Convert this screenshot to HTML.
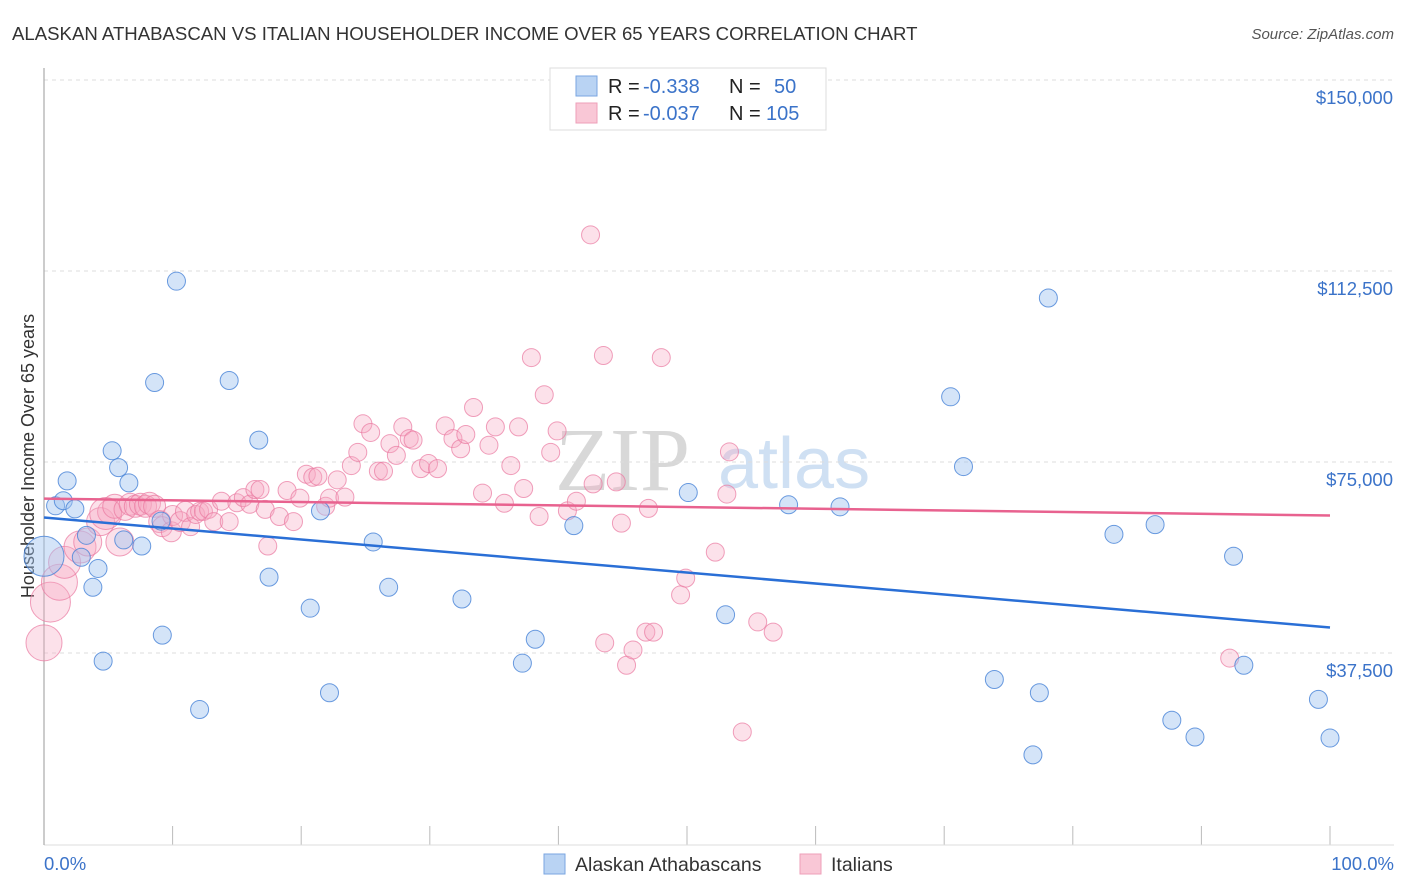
<!DOCTYPE html>
<html><head><meta charset="utf-8"><style>
body{margin:0;background:#fff;font-family:"Liberation Sans",sans-serif;}
svg{display:block}
</style></head><body>
<svg id="chart" width="1406" height="892">
<text x="12" y="40" font-size="18.6" fill="#333">ALASKAN ATHABASCAN VS ITALIAN HOUSEHOLDER INCOME OVER 65 YEARS CORRELATION CHART</text>
<text x="1394" y="39" font-size="15" fill="#555" font-style="italic" text-anchor="end">Source: ZipAtlas.com</text>
<text x="555" y="490" font-size="90" fill="#d8d8d8" font-family="Liberation Serif,serif">ZIP</text>
<text x="718" y="488" font-size="72" fill="#cfe0f3">atlas</text>
<g id="grid"></g>
<line x1="44" y1="68" x2="44" y2="845" stroke="#aaa" stroke-width="1.2"/>
<text transform="translate(34,456) rotate(-90)" font-size="18" fill="#333" text-anchor="middle">Householder Income Over 65 years</text>
<g id="pink"></g><g id="blue"></g><g id="trends"></g>
<text x="44" y="870" font-size="18.5" fill="#3b73c9">0.0%</text>
<text x="1394" y="870" font-size="18.5" fill="#3b73c9" text-anchor="end">100.0%</text>
<g>
<rect x="550" y="68" width="276" height="62" fill="#fff" stroke="#ddd"/>
<rect x="576" y="76" width="21" height="20" fill="#b9d3f3" stroke="#7aa6e0"/>
<rect x="576" y="103" width="21" height="20" fill="#f9c7d6" stroke="#ee9fb8"/>
<text x="608" y="93" font-size="20" fill="#222">R = <tspan x="643" fill="#3b73c9">-0.338</tspan><tspan x="729">N = </tspan><tspan x="774" fill="#3b73c9">50</tspan></text>
<text x="608" y="120" font-size="20" fill="#222">R = <tspan x="643" fill="#3b73c9">-0.037</tspan><tspan x="729">N = </tspan><tspan x="766" fill="#3b73c9">105</tspan></text>
</g>
<g>
<rect x="544" y="854" width="21" height="20" fill="#b9d3f3" stroke="#7aa6e0"/>
<text x="575" y="871" font-size="19.5" fill="#333">Alaskan Athabascans</text>
<rect x="800" y="854" width="21" height="20" fill="#f9c7d6" stroke="#ee9fb8"/>
<text x="831" y="871" font-size="19.5" fill="#333">Italians</text>
</g>
</svg>
<script>
const yTicks=[37500,75000,112500,150000];
const yTickLabels=["$37,500","$75,000","$112,500","$150,000"];
const xTicks=[0,10,20,30,40,50,60,70,80,90,100];
const blueX=[0,0.9,1.5,1.8,2.4,2.9,3.3,3.8,4.2,4.6,5.3,5.8,6.6,6.2,7.6,8.6,9.2,9.1,10.3,12.1,14.4,16.7,17.5,20.7,21.5,22.2,25.6,26.8,32.5,37.2,38.2,41.2,50.1,53,57.9,61.9,70.5,71.5,73.9,77.4,78.1,76.9,83.2,86.4,87.7,89.5,92.5,93.3,99.1,100];
const blueY=[56500,66400,67400,71300,65800,56300,60600,50400,54100,35900,77200,73900,70900,59700,58500,90600,41000,63400,110500,26400,91000,79300,52400,46300,65400,29700,59300,50400,48100,35500,40200,62500,69000,45000,66600,66200,87800,74100,32300,29700,107200,17500,60800,62700,24300,21000,56500,35100,28400,20800];
const blueR=[20,9,9,9,9,9,9,9,9,9,9,9,9,9,9,9,9,9,9,9,9,9,9,9,9,9,9,9,9,9,9,9,9,9,9,9,9,9,9,9,9,9,9,9,9,9,9,9,9,9];
const pinkX=[0,0.5,1.2,1.6,2.8,3.4,4.4,5.1,5.9,4.8,5.5,6.3,6.7,7.1,7.5,7.9,8.2,8.6,9,9.2,9.9,10,10.6,11,11.4,11.8,12.1,12.4,12.8,13.2,13.8,14.4,15,15.5,16,16.4,16.8,17.2,17.4,18.3,18.9,19.4,19.9,20.4,20.9,21.3,21.9,22.2,22.8,23.4,23.9,24.4,24.8,25.4,26,26.4,26.9,27.4,27.9,28.4,28.7,29.3,29.9,30.6,31.2,31.8,32.4,32.8,33.4,34.1,34.6,35.1,35.8,36.3,36.9,37.3,37.9,38.5,38.9,39.4,39.9,40.7,41.4,42.5,42.7,43.5,43.6,44.5,44.9,45.3,45.8,47,46.8,47.4,48.0,49.5,49.9,52.2,53.3,53.1,54.3,55.5,56.7,92.2];
const pinkY=[39500,47500,51400,55300,58300,59300,63300,65200,59300,64900,66300,65700,66700,66300,66700,66300,66900,66300,63300,62300,61300,64500,63300,65300,62300,64700,65300,65300,65700,63300,67300,63300,67000,68000,66700,69600,69600,65700,58500,64300,69400,63300,67900,72600,72000,72200,66300,67900,71500,68100,74300,76900,82500,80800,73200,73200,78600,76300,81900,79600,79300,73700,74700,73700,82100,79600,77600,80400,85700,68900,78300,81900,66900,74300,81900,69800,95500,64300,88200,76900,81100,65400,67300,119600,70700,95900,39500,71100,63000,35100,38100,65900,41600,41600,95500,48900,52200,57300,77000,68700,22000,43600,41600,36500];
const pinkR=[18,20,18,16,16,14,14,12,14,16,12,11,11,11,11,11,11,11,11,10,10,10,10,10,9,9,9,9,9,9,9,9,9,9,9,9,9,9,9,9,9,9,9,9,9,9,9,9,9,9,9,9,9,9,9,9,9,9,9,9,9,9,9,9,9,9,9,9,9,9,9,9,9,9,9,9,9,9,9,9,9,9,9,9,9,9,9,9,9,9,9,9,9,9,9,9,9,9,9,9,9,9,9,9];
const blueTrend=[[0,64100],[100,42500]];
const pinkTrend=[[0,67800],[100,64500]];
const NS="http://www.w3.org/2000/svg";
const X0=44,X1=1330,Y0=844,Y150=80;
function xs(v){return X0+(X1-X0)*v/100;}
function ys(v){return Y0-(Y0-Y150)*v/150000;}
function mk(t,a,p){const e=document.createElementNS(NS,t);for(const k in a)e.setAttribute(k,a[k]);p.appendChild(e);return e;}
const grid=document.getElementById('grid');
yTicks.forEach((v,i)=>{
  const l=mk('line',{x1:44,x2:1394,y1:ys(v),y2:ys(v),stroke:'#ddd','stroke-dasharray':'4,4'},grid);
  
  
  const t=mk('text',{x:1393,y:ys(v)+24,'font-size':18.5,fill:'#3b73c9','text-anchor':'end'},grid);
  t.textContent=yTickLabels[i];
  
  
});
xTicks.forEach(v=>{
  if(v===0)return;
  const l=mk('line',{x1:xs(v),x2:xs(v),y1:826,y2:845,stroke:'#bbb'},grid);
  
  
});
mk('line',{x1:44,x2:1394,y1:845,y2:845,stroke:'#ddd'},grid);
const pg=document.getElementById('pink');
pinkX.forEach((v,i)=>{
  const c=mk('circle',{cx:xs(v),cy:ys(pinkY[i]),r:pinkR[i]||9,fill:'rgba(246,170,195,0.35)',stroke:'rgba(234,120,160,0.7)','stroke-width':1},pg);
  
  
});
const bg=document.getElementById('blue');
blueX.forEach((v,i)=>{
  const c=mk('circle',{cx:xs(v),cy:ys(blueY[i]),r:blueR[i],fill:'rgba(160,195,240,0.45)',stroke:'rgba(70,130,215,0.8)','stroke-width':1},bg);
  
  
});
const tg=document.getElementById('trends');
const bl=mk('line',{x1:xs(blueTrend[0][0]),y1:ys(blueTrend[0][1]),x2:xs(blueTrend[1][0]),y2:ys(blueTrend[1][1]),stroke:'#2a6fd6','stroke-width':2.5},tg);


const pl=mk('line',{x1:xs(pinkTrend[0][0]),y1:ys(pinkTrend[0][1]),x2:xs(pinkTrend[1][0]),y2:ys(pinkTrend[1][1]),stroke:'#e8628f','stroke-width':2.5},tg);


</script>
</body></html>
